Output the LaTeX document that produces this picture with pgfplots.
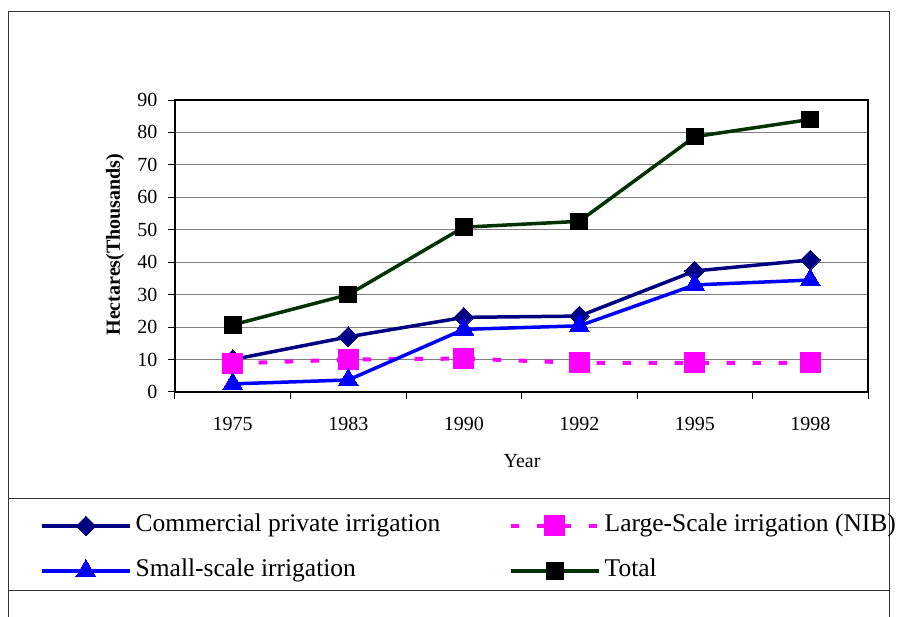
\documentclass[border=0pt]{standalone}
\usepackage{pgfplots}
\pgfplotsset{compat=1.18}
\usepackage{fontspec}
\setmainfont{Liberation Serif}
\definecolor{cnavy}{RGB}{0,0,128}
\definecolor{cblue}{RGB}{0,0,255}
\definecolor{cmag}{RGB}{255,0,255}
\definecolor{cgreen}{RGB}{0,51,0}
\definecolor{cgrid}{RGB}{128,128,128}
\begin{document}
\begin{tikzpicture}[x=1pt,y=1pt]
\useasboundingbox (0,0) rectangle (897,617);
\draw[line width=1pt, black!80] (8,0) -- (8,605) -- (889,605) -- (889,0);
\draw[line width=1pt, black!80] (8,118) -- (889,118);
\draw[line width=1pt, black!80] (8,26) -- (889,26);
\begin{axis}[
  at={(175pt,225pt)}, anchor=south west,
  scale only axis, width=693pt, height=292pt,
  xmin=-0.5, xmax=5.5, ymin=0, ymax=90,
  xtick={0,...,5},
  xticklabels={1975,1983,1990,1992,1995,1998},
  minor xtick={-0.5,0.5,...,5.5},
  ytick={0,10,...,90},
  xtick pos=bottom, ytick pos=left,
  tick align=outside,
  major tick length=7pt, minor tick length=7pt,
  x tick style={draw=none},
  minor x tick style={draw=black, line width=1pt},
  y tick style={draw=black, line width=1pt},
  ymajorgrids, grid style={cgrid, line width=1pt},
  axis line style={black, line width=1.5pt},
  /pgf/number format/assume math mode=true,
  tick label style={font=\fontsize{20}{24}\selectfont},
  xticklabel style={yshift=-15pt},
  yticklabel style={xshift=-7pt},
  label style={font=\fontsize{20}{24}\selectfont},
  xlabel={Year},
  xlabel style={at={(axis description cs:0.5007,-0.236)}, anchor=center},
  ylabel={\textbf{Hectares(Thousands)}},
  ylabel style={at={(axis description cs:-0.0866,0.505)}, anchor=center, rotate=0},
  legend columns=2,
  legend cell align=left,
  legend style={at={(axis description cs:-0.1948,-0.417)}, anchor=north west,
    draw=none, fill=none, inner sep=0pt, row sep=21pt,
    font=\fontsize{25.5}{30}\selectfont,
    nodes={inner xsep=4pt, inner ysep=0pt, text height=18pt, text depth=6pt}},
  legend image code/.code={\draw[#1, mark repeat=2, mark phase=2] plot coordinates {(0pt,0pt) (44pt,0pt) (88pt,0pt)};},
]
\addplot[cnavy, line width=3.5pt, mark=square*, mark size=7pt,
  mark options={rotate=45, solid, fill=cnavy, draw=cnavy, line width=0pt}]
  coordinates {(0,10.0) (1,17.0) (2,23.0) (3,23.4) (4,37.3) (5,40.7)};
\addlegendentry{\makebox[369pt][l]{Commercial private irrigation}}
\addplot[cmag, line width=4pt, dash pattern=on 8.5pt off 17.5pt, mark=square*, mark size=10pt,
  mark options={solid, fill=cmag, draw=cmag, line width=0pt}]
  coordinates {(0,8.8) (1,10.0) (2,10.3) (3,9.0) (4,9.0) (5,9.0)};
\addlegendentry{Large-Scale irrigation (NIB)}
\addplot[cblue, line width=3.5pt, mark=triangle*, mark size=11.5pt,
  mark options={solid, fill=cblue, draw=cblue, line width=0pt}]
  coordinates {(0,2.5) (1,3.7) (2,19.3) (3,20.4) (4,33.0) (5,34.5)};
\addlegendentry{Small-scale irrigation}
\addplot[cgreen, line width=3.5pt, mark=square*, mark size=8.3pt,
  mark options={solid, fill=black, draw=black, line width=0pt}]
  coordinates {(0,20.7) (1,30.0) (2,50.8) (3,52.6) (4,78.7) (5,84.0)};
\addlegendentry{Total}
\end{axis}
\end{tikzpicture}
\end{document}
